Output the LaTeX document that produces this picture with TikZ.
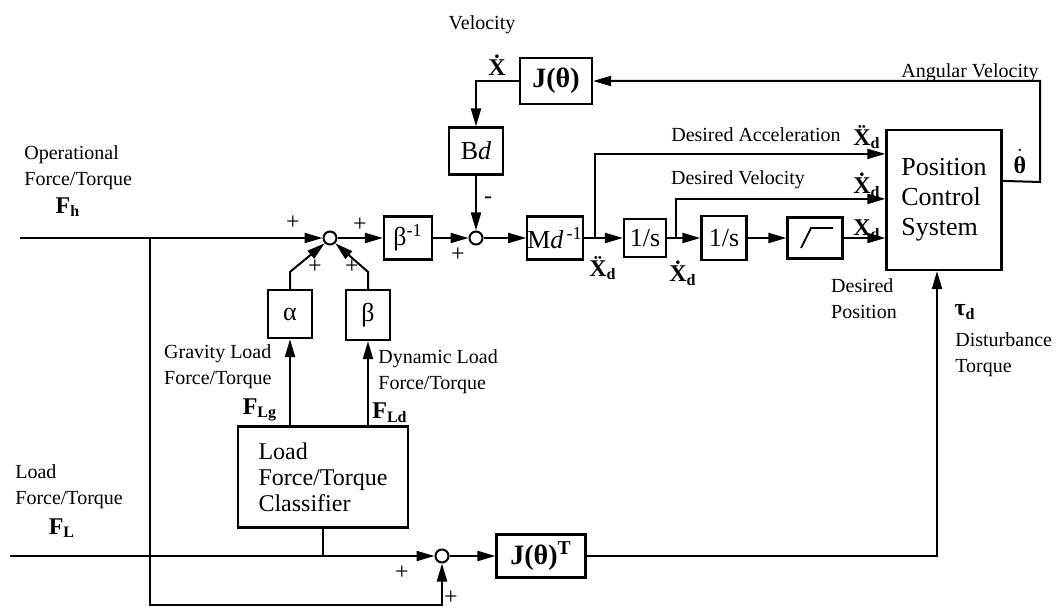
\documentclass[tikz,border=0pt]{standalone}
\usepackage{amsmath}
\usepackage{fontspec}
\setmainfont{Liberation Serif}
\usetikzlibrary{arrows.meta,positioning,calc}

\begin{document}
\begin{tikzpicture}[x=0.5pt,y=-0.5pt,>={Triangle[length=9pt,width=5pt]}]
    \tikzset{
      blk/.style={draw,line width=1.1pt,inner sep=0pt,align=center,
                  font=\fontsize{13}{15}\selectfont},
      sumpt/.style={draw,circle,minimum size=6.5pt,inner sep=0pt,line width=1pt},
      lbl/.style={font=\fontsize{10}{13}\selectfont,align=left,inner sep=1pt},
      sig/.style={font=\fontsize{12}{14}\selectfont\bfseries,inner sep=1pt},
      sgn/.style={font=\fontsize{12}{12}\selectfont,inner sep=0pt},
      wire/.style={->,line width=1pt},
      tap/.style={line width=1pt}
    }
    \useasboundingbox (0,0) rectangle (1061,610);
    \node[sumpt] (sumA) at (330,238) {};
    \node[blk,minimum width=24pt,minimum height=21.5pt] (binv) at (408,238) {β\textsuperscript{-1}};
    \node[sumpt] (sumB) at (476,238) {};
    \node[blk,minimum width=27pt,minimum height=23.5pt] (bd) at (476,151) {B\textit{d}};
    \node[blk,minimum width=36pt,minimum height=23pt,font=\fontsize{14}{16}\selectfont\bfseries] (jac) at (556,81) {J(θ)};
    \node[blk,minimum width=27pt,minimum height=21.5pt] (md) at (555,238) {M\textit{d}\textsuperscript{\,-1}};
    \node[blk,minimum width=21pt,minimum height=19pt] (intA) at (645,238) {1/s};
    \node[blk,minimum width=22.5pt,minimum height=22pt] (intB) at (724,238) {1/s};
    \node[blk,minimum width=27.5pt,minimum height=20.5pt] (sat) at (815,238) {};
    \node[blk,minimum width=57.5pt,minimum height=70pt,align=left] (pcs) at (944,200) {Position\\Control\\System};
    \node[blk,minimum width=22pt,minimum height=24pt] (alpha) at (290,314) {α};
    \node[blk,minimum width=22pt,minimum height=25pt] (beta) at (368,315) {β};
    \node[blk,minimum width=85pt,minimum height=50.5pt,align=left,
          font=\fontsize{12}{13}\selectfont] (cls) at (323,477) {Load\\Force/Torque\\Classifier};
    \node[sumpt] (sumC) at (442,556) {};
    \node[blk,minimum width=44.5pt,minimum height=21.5pt,font=\fontsize{14}{16}\selectfont\bfseries] (jt) at (541,556) {J(θ)\textsuperscript{T}};
    \draw[line width=0.9pt] ($(sat.center)+(-7pt,-5pt)$) -- ($(sat.center)+(-2pt,5pt)$) -- ($(sat.center)+(9pt,5pt)$);
    \coordinate (fhIn) at (20,238);
    \coordinate (flIn) at (10,556);
    \coordinate (tapH) at (150,238);
    \coordinate (btm) at (150,605);
    \coordinate (tapAcc) at (595,238);
    \coordinate (tapVel) at (676,238);
    \coordinate (angR) at (1040,182);
    \draw[wire] (fhIn) -- (sumA);
    \draw[wire] (sumA) -- (binv);
    \draw[wire] (binv) -- (sumB);
    \draw[wire] (sumB) -- (md);
    \draw[wire] (md) -- (intA);
    \draw[wire] (intA) -- (intB);
    \draw[wire] (intB) -- (sat);
    \draw[wire] (sat.east) -- (sat.east -| pcs.west);
    \draw[wire] (tapAcc) |- ($(pcs.north west)+(0,25)$);
    \draw[wire] (tapVel) |- ($(pcs.north west)+(0,70)$);
    \draw[wire] ($(pcs.north east)+(0,52)$) -- (angR) |- (jac.east);
    \draw[wire] (jac.west) -| (bd.north);
    \draw[wire] (bd) -- (sumB);
    \draw[wire] (alpha.north) -- ++(0,-17) -- (sumA.south west);
    \draw[wire] (beta.north) -- ++(0,-17) -- (sumA.south east);
    \draw[wire] (cls.north -| alpha) -- (alpha);
    \draw[wire] (cls.north -| beta) -- (beta);
    \draw[tap] (cls.south) -- (cls.south |- flIn);
    \draw[wire] (tapH) -- (btm) -| (sumC);
    \draw[wire] (flIn) -- (sumC);
    \draw[wire] (sumC) -- (jt);
    \draw[wire] (jt) -| ([xshift=-3.5pt]pcs.south);
    \node[lbl,anchor=west] (fhTxt) at (22,168) {Operational\\Force/Torque};
    \node[sig] (fhSym) at (68,207) {F\textsubscript{h}};
    \node[lbl,anchor=west] (flTxt) at (13,487) {Load\\Force/Torque};
    \node[sig] (flSym) at (62,528) {F\textsubscript{L}};
    \node[lbl] (velTxt) at (482,25) {Velocity};
    \node[sig] (velSym) at (497,65) {Ẋ};
    \node[lbl] (angTxt) at (970,73) {Angular Velocity};
    \node[sig] (angSym) at (1020,160) {$\overset{\textstyle .}{\text{θ}}$};
    \node[lbl] (accTxt) at (756,135) {Desired Acceleration};
    \node[sig] (accSym) at (867,137) {Ẍ\textsubscript{d}};
    \node[lbl] (vdTxt) at (738,180) {Desired Velocity};
    \node[sig] (vdSym) at (867,185) {Ẋ\textsubscript{d}};
    \node[sig] (xdSym) at (867,230) {X\textsubscript{d}};
    \node[lbl] (posTxt) at (864,299) {Desired\\Position};
    \node[sig] (tauSym) at (965,312) {τ\textsubscript{d}};
    \node[lbl,anchor=west] (distTxt) at (953,355) {Disturbance\\Torque};
    \node[sig] (mdOut) at (603,268) {Ẍ\textsubscript{d}};
    \node[sig] (intOut) at (683,273) {Ẋ\textsubscript{d}};
    \node[lbl,anchor=east,align=left] (gravTxt) at (274,367) {Gravity Load\\Force/Torque};
    \node[sig] (flgSym) at (260,410) {F\textsubscript{Lg}};
    \node[lbl,anchor=west] (dynTxt) at (376,372) {Dynamic Load\\Force/Torque};
    \node[sig] (fldSym) at (390,413) {F\textsubscript{Ld}};
    \node[sgn] (pA) at (293,223) {+};
    \node[sgn] (pB) at (360,225) {+};
    \node[sgn] (pC) at (315,267) {+};
    \node[sgn] (pD) at (352,267) {+};
    \node[sgn] (pE) at (458,255) {+};
    \node[sgn] (mA) at (488,200) {-};
    \node[sgn] (pF) at (402,573) {+};
    \node[sgn] (pG) at (451,598) {+};
  \end{tikzpicture}
\end{document}
